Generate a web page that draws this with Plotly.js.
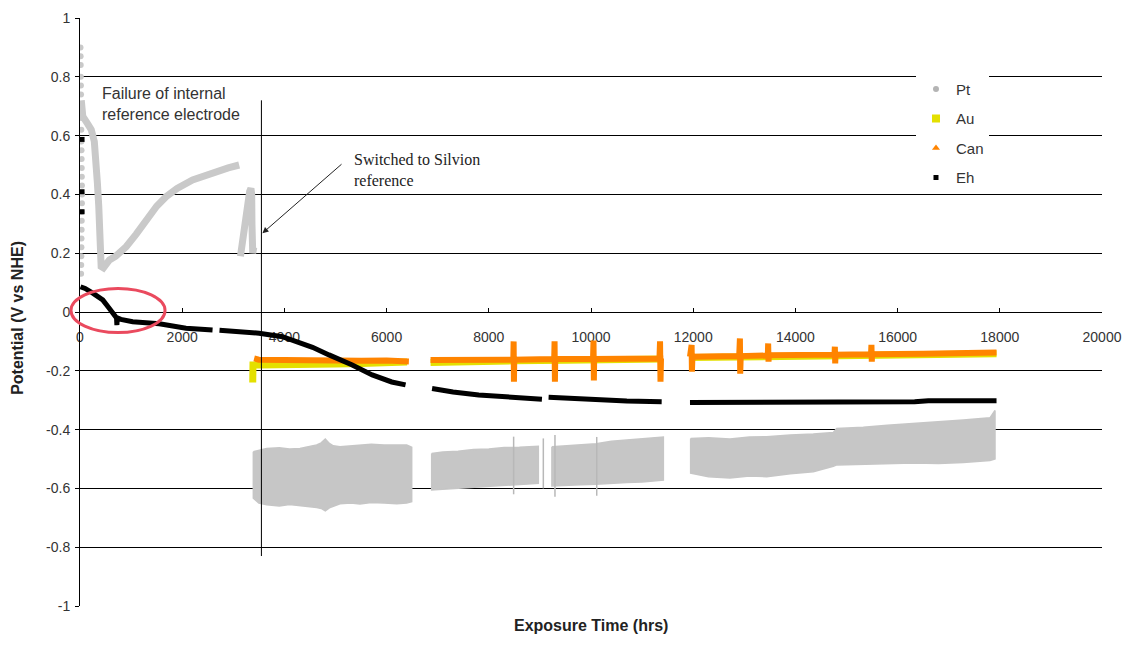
<!DOCTYPE html>
<html>
<head>
<meta charset="utf-8">
<script src="https://cdn.plot.ly/plotly-3.0.1.min.js"></script>
<style>
  html, body { margin: 0; padding: 0; background: #fff; }
  #chart { width: 1125px; height: 646px; }
</style>
</head>
<body>
<div id="chart"></div>
<script>
// ---- Axis ticks ----
const yTickVals = [-1, -0.8, -0.6, -0.4, -0.2, 0, 0.2, 0.4, 0.6, 0.8, 1];
const yTickText = ['-1', '-0.8', '-0.6', '-0.4', '-0.2', '0', '0.2', '0.4', '0.6', '0.8', '1'];
const xTickVals = [0, 2000, 4000, 6000, 8000, 10000, 12000, 14000, 16000, 18000, 20000];
const xTickText = ['0', '2000', '4000', '6000', '8000', '10000', '12000', '14000', '16000', '18000', '20000'];

// ---- Pt electrode (hrs, V vs NHE) ----
// initial readings at start of exposure
const ptStartX = [10, 12, 14, 16, 18, 20, 22, 24, 26, 28, 30, 32, 34, 36, 38, 40, 38, 36, 34, 32, 30, 28, 26, 24, 22];
const ptStartY = [0.90, 0.87, 0.84, 0.80, 0.77, 0.74, 0.70, 0.66, 0.62, 0.58, 0.55, 0.52, 0.49, 0.46, 0.43, 0.40, 0.37, 0.34, 0.31, 0.28, 0.25, 0.22, 0.19, 0.16, 0.13];
// internal reference period
const ptEarlyX = [25, 55, 150, 220, 280, 316, 340, 367, 380, 395, 414, 460, 520, 576, 700, 902, 1100, 1293, 1500, 1684, 1900, 2203, 2450, 2660, 2900, 3115,
                  null, 3140, 3180, 3230, 3280, 3320, 3345, 3360, 3365, 3370, 3380, 3400];
const ptEarlyY = [0.72, 0.665, 0.64, 0.62, 0.58, 0.52, 0.44, 0.36, 0.26, 0.20, 0.155, 0.15, 0.165, 0.177, 0.19, 0.222, 0.265, 0.313, 0.36, 0.392, 0.42, 0.449, 0.465, 0.477, 0.49, 0.50,
                  null, 0.19, 0.25, 0.31, 0.37, 0.41, 0.42, 0.40, 0.30, 0.22, 0.20, 0.22];
// Silvion reference period: scatter envelope (upper / lower) for each run
const ptRun1X = [3392, 3500, 3653, 3900, 4100, 4305, 4470, 4632, 4720, 4800, 4880, 4957, 5088, 5300, 5479, 5700, 5950, 6200, 6393, 6491];
const ptRun1Hi = [-0.475, -0.47, -0.464, -0.462, -0.466, -0.464, -0.458, -0.452, -0.445, -0.432, -0.447, -0.455, -0.458, -0.455, -0.452, -0.45, -0.452, -0.453, -0.452, -0.46];
const ptRun1Lo = [-0.633, -0.65, -0.656, -0.66, -0.655, -0.658, -0.662, -0.665, -0.668, -0.676, -0.666, -0.66, -0.652, -0.65, -0.653, -0.648, -0.65, -0.652, -0.65, -0.645];
const ptRun2X = [6882, 7100, 7400, 7700, 8000, 8300, 8600, 8969];
const ptRun2Hi = [-0.481, -0.476, -0.474, -0.468, -0.466, -0.461, -0.46, -0.457];
const ptRun2Lo = [-0.605, -0.604, -0.6, -0.598, -0.593, -0.591, -0.587, -0.583];
const ptRun3X = [9235, 9500, 9800, 10100, 10400, 10700, 11000, 11250, 11416];
const ptRun3Hi = [-0.458, -0.455, -0.452, -0.448, -0.44, -0.436, -0.432, -0.428, -0.425];
const ptRun3Lo = [-0.592, -0.59, -0.588, -0.586, -0.584, -0.58, -0.578, -0.575, -0.572];
const ptRun4X = [11950, 12300, 12720, 13100, 13438, 13900, 14350, 14742, 14808, 15329, 15800, 16307, 16800, 17286, 17808, 17906];
const ptRun4Hi = [-0.43, -0.428, -0.432, -0.425, -0.424, -0.418, -0.415, -0.41, -0.396, -0.392, -0.385, -0.378, -0.372, -0.367, -0.36, -0.335];
const ptRun4Lo = [-0.548, -0.56, -0.565, -0.558, -0.56, -0.55, -0.543, -0.525, -0.52, -0.52, -0.516, -0.514, -0.515, -0.512, -0.505, -0.5];
// isolated outlying readings
const ptSpikeX = [8486, 9067, 9295, 10112];
const ptSpikeHi = [-0.424, -0.43, -0.418, -0.425];
const ptSpikeLo = [-0.62, -0.6, -0.628, -0.625];

// ---- Au electrode ----
const auX = [3380, 3385, 3500, 4000, 4500, 5000, 5500, 6000, 6400, null,
             6860, 7500, 8500, 9500, 10500, 11400, null,
             11937, 14000, 16000, 17936];
const auY = [-0.24, -0.18, -0.18, -0.181, -0.18, -0.177, -0.175, -0.172, -0.17, null,
             -0.172, -0.168, -0.166, -0.164, -0.162, -0.16, null,
             -0.155, -0.15, -0.146, -0.142];

// ---- Can electrode ----
const canX = [3408, 3500, 4000, 4500, 5000, 5500, 6000, 6436, null,
              6860, 7500, 8480, 8486, 8492, 8498, 9280, 9287, 9294, 9300, 10040, 10049, 10056, 10062, 11340, 11351, 11360, 11370, 11416, null,
              11937, 11969, 11975, 11985, 12900, 12914, 12920, 12930, 13460, 13467, 13474, 13480, 14765, 14772, 14779, 14785, 15480, 15488, 15495, 15500, 16500, 17936];
const canY = [-0.158, -0.162, -0.163, -0.165, -0.167, -0.166, -0.165, -0.168, null,
              -0.163, -0.163, -0.162, -0.10, -0.237, -0.162, -0.16, -0.10, -0.237, -0.16, -0.16, -0.097, -0.233, -0.16, -0.158, -0.10, -0.237, -0.158, -0.158, null,
              -0.152, -0.112, -0.203, -0.152, -0.15, -0.09, -0.21, -0.15, -0.148, -0.107, -0.169, -0.147, -0.145, -0.118, -0.175, -0.145, -0.144, -0.112, -0.169, -0.144, -0.142, -0.138];

// ---- Eh ----
const ehStartX = [40, 40, 40];
const ehStartY = [0.587, 0.409, 0.341];
const ehX = [10, 100, 250, 445, 560, 640, 700, 715, 722, 730, 800, 1031, 1422, 1553, 2074, 2594, null,
             2730, 2984, 3506, 3961, 4222, 4550, 4873, 5100, 5328, 5719, 6100, 6371, null,
             6890, 7300, 7803, 8400, 9040, null,
             9170, 10080, 10700, 11383, null,
             11937, 14000, 16334, 16600, 17936];
const ehY = [0.086, 0.08, 0.064, 0.041, 0.015, -0.004, -0.015, -0.02, -0.045, -0.02, -0.025, -0.033, -0.038, -0.04, -0.055, -0.061, null,
             -0.062, -0.064, -0.072, -0.084, -0.101, -0.12, -0.146, -0.163, -0.18, -0.214, -0.238, -0.248, null,
             -0.26, -0.272, -0.282, -0.29, -0.297, null,
             -0.29, -0.299, -0.303, -0.305, null,
             -0.308, -0.308, -0.305, -0.302, -0.302];

// ---- Chart text ----
const seriesNames = ['Pt', 'Au', 'Can', 'Eh'];
const xTitle = 'Exposure Time (hrs)';
const yTitle = 'Potential (V vs NHE)';
const noteFailure = 'Failure of internal<br>reference electrode';
const noteSwitch = 'Switched to Silvion<br>reference';

// ---- Events ----
const switchTime = 3550;          // change of reference electrode (hrs)
const switchSpan = [0.72, -0.83]; // vertical extent of the marker line
const circled = {x0: -176, x1: 1664, y0: -0.07, y1: 0.08};

const X_RANGE = [0, 20000];
const Y_RANGE = [-1, 1];

const PT_LIGHT = '#c9c9c9';
const PT_BAND = '#c6c6c6';
const AU_COL = '#e4e000';
const CAN_COL = '#ff8400';

function envelope(xs, hi, lo) {
  return {
    x: xs.concat(xs.slice().reverse()).concat([xs[0]]),
    y: hi.concat(lo.slice().reverse()).concat([hi[0]])
  };
}
function spikes(xs, hi, lo) {
  const x = [], y = [];
  xs.forEach((v, i) => { x.push(v, v, null); y.push(hi[i], lo[i], null); });
  return {x, y};
}

const traces = [];
[[ptRun1X, ptRun1Hi, ptRun1Lo], [ptRun2X, ptRun2Hi, ptRun2Lo],
 [ptRun3X, ptRun3Hi, ptRun3Lo], [ptRun4X, ptRun4Hi, ptRun4Lo]].forEach(r => {
  const e = envelope(r[0], r[1], r[2]);
  traces.push({x: e.x, y: e.y, type: 'scatter', mode: 'lines', fill: 'toself',
    fillcolor: PT_BAND, line: {color: PT_BAND, width: 1.5},
    showlegend: false, hoverinfo: 'skip'});
});
const sp = spikes(ptSpikeX, ptSpikeHi, ptSpikeLo);
traces.push({x: sp.x, y: sp.y, type: 'scatter', mode: 'lines',
  line: {color: '#b8b8b8', width: 1.5}, showlegend: false, hoverinfo: 'skip'});
traces.push({x: ptStartX, y: ptStartY, type: 'scatter', mode: 'markers',
  marker: {color: PT_LIGHT, size: 6}, showlegend: false});
traces.push({x: ptEarlyX, y: ptEarlyY, type: 'scatter', mode: 'lines',
  line: {color: PT_LIGHT, width: 7}, showlegend: false});
traces.push({x: auX, y: auY, type: 'scatter', mode: 'lines',
  line: {color: AU_COL, width: 7}, showlegend: false});
traces.push({x: canX, y: canY, type: 'scatter', mode: 'lines',
  line: {color: CAN_COL, width: 6}, showlegend: false});
traces.push({x: ehStartX, y: ehStartY, type: 'scatter', mode: 'markers',
  marker: {color: '#000', size: 5, symbol: 'square'}, showlegend: false});
traces.push({x: ehX, y: ehY, type: 'scatter', mode: 'lines',
  line: {color: '#000', width: 5}, showlegend: false});

// legend entries
const legendMarkers = [
  {color: '#b4b4b4', size: 6, symbol: 'circle'},
  {color: AU_COL, size: 8, symbol: 'square'},
  {color: CAN_COL, size: 7, symbol: 'triangle-up'},
  {color: '#000', size: 5, symbol: 'square'}
];
seriesNames.forEach((n, i) => {
  traces.push({x: [null], y: [null], type: 'scatter', mode: 'markers', name: n,
    legendgroup: 'g' + i, marker: legendMarkers[i], showlegend: true});
});

const xd = v => (v - X_RANGE[0]) / (X_RANGE[1] - X_RANGE[0]);
const yd = v => (v - Y_RANGE[0]) / (Y_RANGE[1] - Y_RANGE[0]);

const tickFont = {family: 'Liberation Sans, Arial, sans-serif', size: 14, color: '#333'};

const layout = {
  width: 1125, height: 646,
  margin: {l: 80, r: 23, t: 18, b: 40},
  paper_bgcolor: '#fff', plot_bgcolor: '#fff',
  showlegend: true,
  legend: {x: 0.818, y: 0.907, xanchor: 'left', yanchor: 'top', bgcolor: '#fff',
    font: {family: 'Liberation Sans, Arial, sans-serif', size: 15, color: '#333'},
    traceorder: 'grouped', tracegroupgap: 7, itemwidth: 30},
  xaxis: {range: X_RANGE, tickvals: xTickVals, ticktext: xTickText, anchor: 'free', position: 0.5,
    showline: true, linecolor: '#000', linewidth: 1, ticks: 'inside', ticklen: 4, tickcolor: '#000',
    showgrid: false, zeroline: false, tickfont: tickFont, ticklabelstandoff: 12,
    layer: 'below traces'},
  yaxis: {range: Y_RANGE, tickvals: yTickVals, ticktext: yTickText,
    showline: true, linecolor: '#000', linewidth: 1, ticks: 'outside', ticklen: 4, tickcolor: '#000',
    showgrid: true, gridcolor: '#000', gridwidth: 1, zeroline: false, tickfont: tickFont,
    ticklabelstandoff: 2},
  shapes: [
    {type: 'line', xref: 'x', yref: 'y', x0: switchTime, x1: switchTime, y0: switchSpan[0], y1: switchSpan[1],
      line: {color: '#000', width: 1}, layer: 'above'},
    {type: 'circle', xref: 'x domain', yref: 'y domain',
      x0: xd(circled.x0), x1: xd(circled.x1), y0: yd(circled.y0), y1: yd(circled.y1),
      line: {color: '#ea4a5e', width: 3}, layer: 'above'}
  ],
  annotations: [
    {text: noteFailure, xref: 'x', yref: 'y', x: 391, y: 0.707, xanchor: 'left', yanchor: 'middle',
      align: 'left', showarrow: false, font: {family: 'Liberation Sans, Arial, sans-serif', size: 16, color: '#333'}},
    {text: noteSwitch, xref: 'x', yref: 'y', x: 5317, y: 0.483, xanchor: 'left', yanchor: 'middle',
      align: 'left', showarrow: false, font: {family: 'Liberation Serif, Times New Roman, serif', size: 16, color: '#222'}},
    {text: '', xref: 'x', yref: 'y', x: 3570, y: 0.268, axref: 'x', ayref: 'y', ax: 5147, ay: 0.507,
      showarrow: true, arrowhead: 2, arrowsize: 1.2, arrowwidth: 1, arrowcolor: '#222'},
    {text: '<b>' + xTitle + '</b>', xref: 'paper', yref: 'paper', x: 0.5, y: -0.034,
      xanchor: 'center', yanchor: 'middle', showarrow: false,
      font: {family: 'Liberation Sans, Arial, sans-serif', size: 16, color: '#222'}},
    {text: '<b>' + yTitle + '</b>', xref: 'paper', yref: 'paper', x: -0.0607, y: 0.49, textangle: -90,
      xanchor: 'center', yanchor: 'middle', showarrow: false,
      font: {family: 'Liberation Sans, Arial, sans-serif', size: 16, color: '#222'}}
  ]
};

Plotly.newPlot('chart', traces, layout, {staticPlot: true, displayModeBar: false});
</script>
</body>
</html>
